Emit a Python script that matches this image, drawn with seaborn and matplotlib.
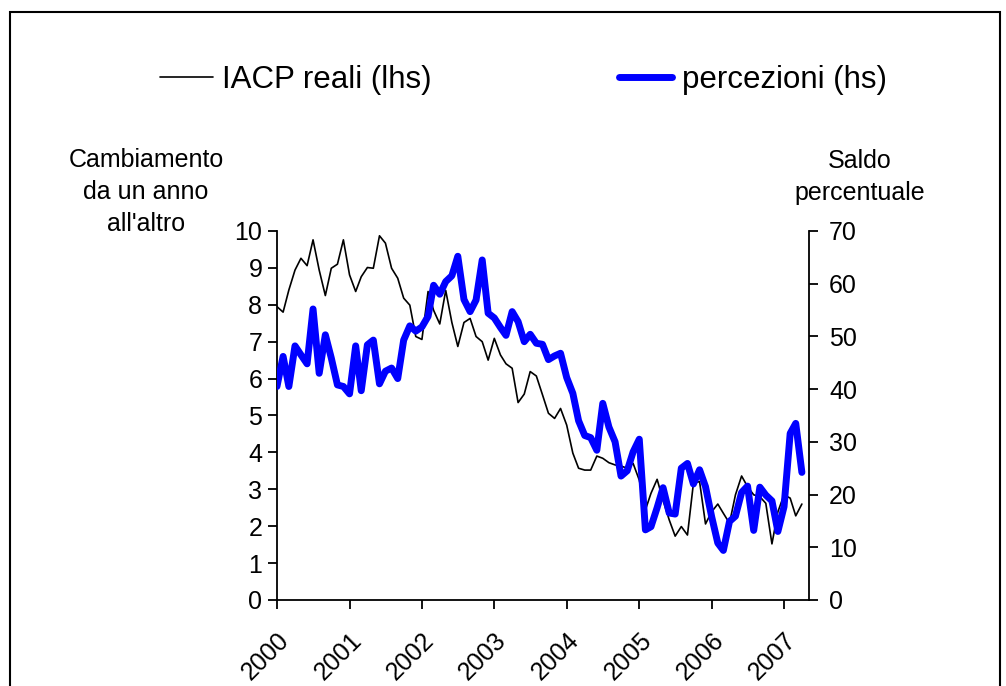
import matplotlib

matplotlib.use("Agg")
import matplotlib.pyplot as plt
from matplotlib.patches import Rectangle
import pandas as pd
import seaborn as sns

sns.set_style("white")
plt.rcParams["font.family"] = ["Liberation Sans", "DejaVu Sans"]
plt.rcParams["text.color"] = "black"

# monthly values, January 2000 to April 2007
START = "2000-01-01"
IACP = [
    7.95, 7.80, 8.40, 8.94, 9.26, 9.06, 9.76, 8.94, 8.25, 8.99, 9.10, 9.76,
    8.81, 8.36, 8.76, 9.01, 8.99, 9.87, 9.67, 8.99, 8.72, 8.18, 7.99, 7.14,
    7.06, 8.36, 7.85, 7.48, 8.39, 7.52, 6.87, 7.52, 7.63, 7.14, 7.00, 6.50,
    7.09, 6.64, 6.40, 6.28, 5.35, 5.58, 6.19, 6.07, 5.56, 5.06, 4.92, 5.19,
    4.74, 3.98, 3.57, 3.52, 3.52, 3.90, 3.84, 3.72, 3.66, 3.63, 3.57, 3.70,
    3.25, 2.44, 2.89, 3.27, 2.70, 2.17, 1.73, 1.99, 1.76, 3.16, 3.21, 2.06,
    2.39, 2.60, 2.35, 2.08, 2.85, 3.36, 3.07, 2.85, 2.80, 2.62, 1.52, 2.39,
    2.85, 2.76, 2.28, 2.60,
]
PERCEZIONI = [
    40.5, 46.2, 40.5, 48.2, 46.5, 44.8, 55.2, 43.0, 50.3, 45.9, 40.8, 40.5,
    39.1, 48.2, 39.7, 48.4, 49.3, 41.0, 43.4, 44.0, 42.0, 49.3, 52.0, 51.0,
    51.8, 53.8, 59.7, 58.0, 60.4, 61.5, 65.2, 57.0, 54.7, 56.9, 64.5, 54.4,
    53.5, 51.7, 50.2, 54.7, 52.8, 49.0, 50.4, 48.7, 48.5, 45.6, 46.3, 46.8,
    42.2, 39.2, 34.0, 31.2, 30.8, 28.4, 37.3, 32.8, 30.0, 23.5, 24.5, 28.1,
    30.5, 13.3, 13.9, 17.5, 21.3, 16.5, 16.3, 25.0, 25.9, 22.0, 24.7, 21.5,
    15.8, 10.8, 9.4, 14.9, 15.9, 20.4, 21.6, 13.2, 21.4, 19.9, 18.8, 13.0,
    17.7, 31.6, 33.5, 24.2,
]
YEARS = ["2000", "2001", "2002", "2003", "2004", "2005", "2006", "2007"]
LEFT_TICKS = list(range(0, 11))
RIGHT_TICKS = list(range(0, 71, 10))

dates = pd.date_range(START, periods=len(IACP), freq="MS")
df = pd.DataFrame({"data": dates, "iacp": IACP, "perc": PERCEZIONI})

fig = plt.figure(figsize=(10.06, 6.86), dpi=100)
ax = fig.add_axes([0.2753, 0.1254, 0.5289, 0.5379])

sns.lineplot(data=df, x="data", y="iacp", ax=ax, color="black", lw=1.2)
ax2 = ax.twinx()
sns.lineplot(data=df, x="data", y="perc", ax=ax2, color="#0000FF", lw=5,
             solid_joinstyle="round", solid_capstyle="round")

ax.set_xlim(pd.Timestamp("2000-01-01"), pd.Timestamp("2007-05-07"))
ax.set_ylim(0, 10)
ax2.set_ylim(0, 70)
ax.set_yticks(LEFT_TICKS)
ax2.set_yticks(RIGHT_TICKS)
ax.set_xticks([pd.Timestamp(f"{y}-01-01") for y in YEARS])
ax.set_xticklabels(YEARS, rotation=45, ha="right", rotation_mode="anchor")
ax.set_xlabel("")
ax.set_ylabel("")
ax2.set_ylabel("")

for a in (ax, ax2):
    a.spines["top"].set_visible(False)
    for s in a.spines.values():
        s.set_linewidth(1.3)
        s.set_color("black")
    a.tick_params(labelsize=18, colors="black", labelcolor="black",
                  width=1.3, length=6.5)
ax.spines["right"].set_visible(False)
ax2.spines["left"].set_visible(False)
ax2.spines["bottom"].set_visible(False)
ax.tick_params(axis="y", left=True, pad=4)
ax.tick_params(axis="x", bottom=True, pad=14)
ax2.tick_params(axis="y", right=True, pad=8)
ax.grid(False)
ax2.grid(False)

fig.text(146 / 1006, 1 - 192 / 686, "Cambiamento\nda un anno\nall'altro",
         ha="center", va="center", ma="center", fontsize=18, linespacing=1.42,
         color="black")
fig.text(860 / 1006, 1 - 177 / 686, "Saldo\npercentuale",
         ha="center", va="center", ma="center", fontsize=18, linespacing=1.42,
         color="black")

fig.legend(handles=[ax.lines[0], ax2.lines[0]],
           labels=["IACP reali (lhs)", "percezioni (hs)"],
           loc="center", bbox_to_anchor=(0.520, 1 - 80 / 686), ncol=2,
           frameon=False, fontsize=22.5, handlelength=1.7, handletextpad=0.3,
           columnspacing=6.0, labelcolor="black")

fig.patches.append(Rectangle((10 / 1006, -0.1), 990 / 1006, 1.1 - 12 / 686,
                             transform=fig.transFigure, fill=False,
                             edgecolor="black", lw=1.5))

fig.savefig("out.png", dpi=100)
